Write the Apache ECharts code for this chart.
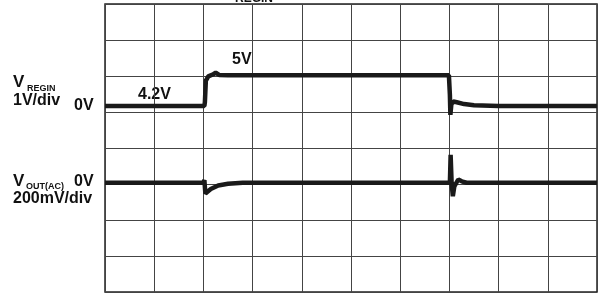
<!DOCTYPE html>
<html>
<head>
<meta charset="utf-8">
<script src="https://cdn.jsdelivr.net/npm/echarts@6/dist/echarts.min.js"></script>
<style>
  html, body { margin: 0; padding: 0; background: #fff; }
  #main { width: 608px; height: 295px; }
</style>
</head>
<body>
<div id="main"></div>
<script>
// time in scope divisions (10 div across)
var regionTime = [0, 1.95, 2.02, 2.03, 2.05, 2.1, 2.2, 2.25, 2.32, 2.5, 4.0, 6.99, 7.01, 7.02, 7.04, 7.08, 7.15, 7.3, 7.5, 8.0, 10];
// V_REGIN in volts (1V/div)
var regionVolts = [4.2, 4.2, 4.2, 4.3, 4.9, 5.02, 5.08, 5.12, 5.06, 5.05, 5.05, 5.05, 4.5, 3.95, 4.25, 4.32, 4.3, 4.25, 4.22, 4.2, 4.2];

var outTime = [0, 2.0, 2.02, 2.04, 2.08, 2.15, 2.3, 2.5, 2.8, 7.01, 7.025, 7.045, 7.07, 7.1, 7.18, 7.25, 7.35, 10];
// V_OUT(AC) in millivolts (200mV/div)
var outMillivolts = [0, 0, 15, -60, -62, -35, -15, -6, 0, 0, 155, 0, -75, -20, 18, 8, 0, 0];

function pairs(xs, ys) {
  return xs.map(function (x, i) { return [x, ys[i]]; });
}

var textColor = '#111';
var traceColor = '#1a1a1a';

// y is the text baseline
function label(text, x, y, size) {
  return {
    type: 'text',
    x: x,
    y: y + 0.21 * size,
    style: {
      text: text,
      fill: textColor,
      font: 'bold ' + size + 'px "Liberation Sans", Arial, sans-serif',
      verticalAlign: 'bottom'
    }
  };
}

var myChart = echarts.init(document.getElementById('main'));

var option = {
  backgroundColor: '#fff',
  animation: false,
  grid: {
    left: 105,
    top: 4,
    width: 492,
    height: 288,
    show: true,
    borderColor: '#222',
    borderWidth: 1.5
  },
  xAxis: {
    type: 'value',
    min: 0,
    max: 10,
    interval: 1,
    axisLine: { show: false },
    axisTick: { show: false },
    axisLabel: { show: false },
    splitLine: { show: true, lineStyle: { color: '#444', width: 1 } }
  },
  yAxis: [{
    // divisions, only for the graticule
    type: 'value',
    min: 0,
    max: 8,
    interval: 1,
    axisLine: { show: false },
    axisTick: { show: false },
    axisLabel: { show: false },
    splitLine: { show: true, lineStyle: { color: '#444', width: 1 } }
  }, {
    type: 'value',
    min: -0.97,
    max: 7.03,
    show: false,
    splitLine: { show: false }
  }, {
    type: 'value',
    min: -607,
    max: 993,
    show: false,
    splitLine: { show: false }
  }],
  series: [{
    type: 'line',
    yAxisIndex: 1,
    data: pairs(regionTime, regionVolts),
    showSymbol: false,
    lineStyle: { color: traceColor, width: 4.5 }
  }, {
    type: 'line',
    yAxisIndex: 2,
    data: pairs(outTime, outMillivolts),
    showSymbol: false,
    lineStyle: { color: traceColor, width: 4.5 }
  }],
  graphic: [
    label('REGIN', 235, 2, 12),
    label('V', 13, 87.3, 17),
    label('REGIN', 27, 91, 9),
    label('1V/div', 13, 105.7, 16),
    label('0V', 74, 110, 16),
    label('4.2V', 138, 99.3, 16),
    label('5V', 232, 64, 16),
    label('V', 13, 186.7, 17),
    label('OUT(AC)', 26, 189.5, 9),
    label('0V', 74, 186.7, 16),
    label('200mV/div', 13, 203.3, 16)
  ]
};

myChart.setOption(option);
</script>
</body>
</html>
